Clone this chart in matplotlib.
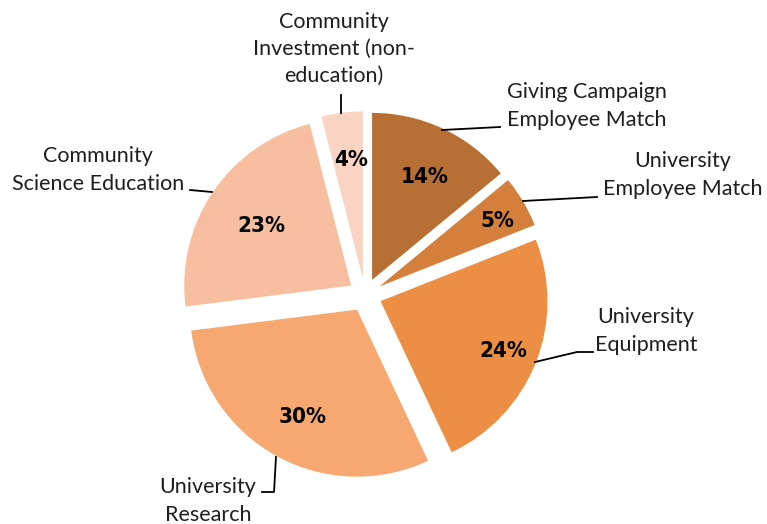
import numpy as np
import matplotlib
matplotlib.use("Agg")
import matplotlib.pyplot as plt

# %%
# Data (clockwise from 12 o'clock)
categories = ["Giving Campaign\nEmployee Match",
              "University\nEmployee Match",
              "University\nEquipment",
              "University\nResearch",
              "Community\nScience Education",
              "Community\nInvestment (non-\neducation)"]
shares = [14, 5, 24, 30, 23, 4]
colors = ["#B76F34", "#D4803C", "#EC8F44", "#F6A870", "#F7BF9F", "#F9D4C2"]

# %%
W, H = 767, 524
fig = plt.figure(figsize=(W / 100, H / 100), dpi=100)
ax = fig.add_axes([0, 0, 1, 1])
ax.set_xlim(0, W)
ax.set_ylim(0, H)
ax.set_aspect("equal")
ax.axis("off")

cx, cy, r = 365, H - 295, 167

# explode is in data units when center/radius are given
wedges, texts = ax.pie(
    shares, colors=colors, startangle=90, counterclock=False,
    explode=[0.1 * r] * len(shares), center=(cx, cy), radius=r,
    wedgeprops=dict(linewidth=0))
ax.set_xlim(0, W)
ax.set_ylim(0, H)

# percentage labels, placed along each wedge's bisector
pct_frac = [0.70, 0.80, 0.77, 0.71, 0.67, 0.73]
for w, s, f in zip(wedges, shares, pct_frac):
    th = np.deg2rad((w.theta1 + w.theta2) / 2)
    x0, y0 = w.center
    ax.text(x0 + f * r * np.cos(th) + 3, y0 + f * r * np.sin(th) - 3, f"{s}%",
            ha="center", va="center", fontsize=16, fontweight="bold",
            fontstretch="condensed",
            family=["Liberation Sans Narrow", "DejaVu Sans"])

# Category labels with leader lines (pixel positions, y from top)
label_pos = [(587, 106), (683, 175), (646, 331),
             (208, 501), (98, 170), (334, 49)]
leaders = [[(442, 130), (500, 127)],
           [(523, 201), (597, 197)],
           [(535, 362), (577, 352), (593, 352)],
           [(276, 457), (274, 492), (262, 492)],
           [(190, 190), (212, 192)],
           [(341, 95), (341, 113)]]

for name, (x, y), pts in zip(categories, label_pos, leaders):
    ax.text(x, H - y, name, ha="center", va="center", fontsize=15.5,
            family=["Lato", "DejaVu Sans"], color="#1e1e1e", linespacing=1.45)
    xs = [p[0] for p in pts]
    ys = [H - p[1] for p in pts]
    ax.plot(xs, ys, color="black", lw=1.3)

fig.savefig("out.png", dpi=100)
